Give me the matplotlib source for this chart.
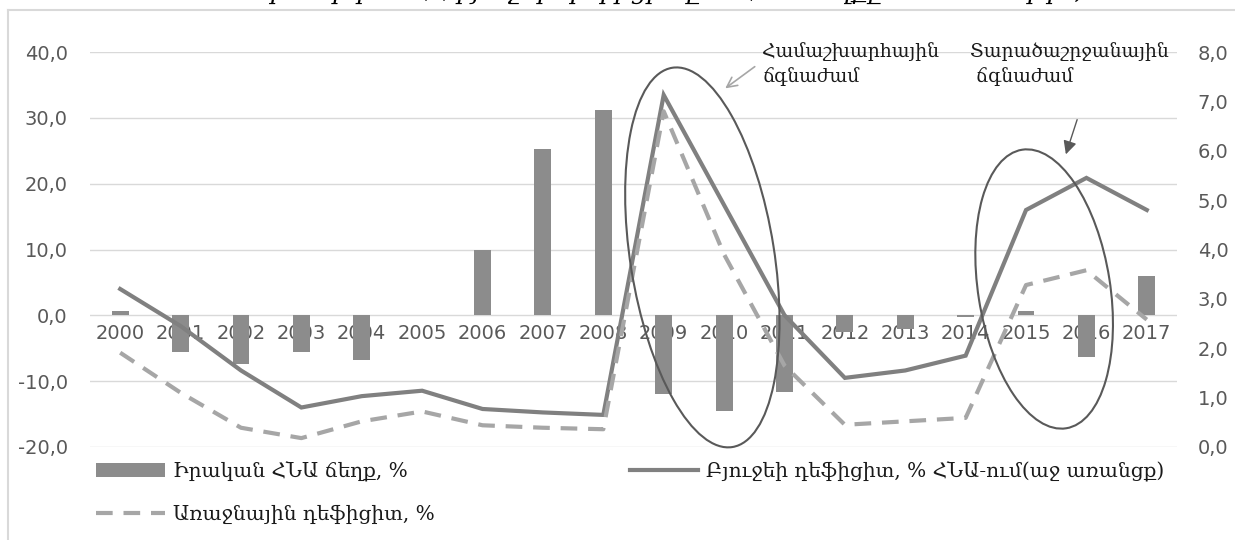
import numpy as np
import matplotlib
matplotlib.use("Agg")
import matplotlib.pyplot as plt
from matplotlib.patches import Ellipse
from matplotlib.lines import Line2D
from matplotlib.transforms import IdentityTransform

# Տվյալներ
years = [str(y) for y in range(2000, 2018)]
gdp_gap = [0.6, -5.5, -7.4, -5.6, -6.8, 0.0, 9.9, 25.3, 31.2,
           -11.9, -14.6, -11.7, -2.6, -2.1, -0.2, 0.6, -6.3, 6.0]
budget_deficit = [3.2, 2.45, 1.55, 0.8, 1.03, 1.14, 0.77, 0.70, 0.65,
                  7.13, 4.9, 2.67, 1.40, 1.55, 1.85, 4.8, 5.45, 4.8]
primary_deficit = [1.91, 1.1, 0.39, 0.18, 0.52, 0.72, 0.44, 0.39, 0.36,
                   6.8, 3.9, 1.65, 0.45, 0.52, 0.59, 3.28, 3.58, 2.58]

left_ticks = [-20, -10, 0, 10, 20, 30, 40]
right_ticks = [0, 1, 2, 3, 4, 5, 6, 7, 8]

lbl_bar = "Իրական ՀՆԱ ճեղք, %"
lbl_budget = "Բյուջեի դեֆիցիտ, % ՀՆԱ-ում(աջ առանցք)"
lbl_primary = "Առաջնային դեֆիցիտ, %"
title = "Գծապատկեր 1. ՀՀ բյուջեի դեֆիցիտը և ՀՆԱ ճեղքը 2000-2017թթ., %"

W, H = 1235, 540
fig = plt.figure(figsize=(W / 100, H / 100), dpi=100)
fig.subplots_adjust(left=90 / W, right=1177 / W, top=1 - 52 / H, bottom=1 - 447 / H)
ax = fig.add_subplot(111)
ax2 = ax.twinx()

x = np.arange(len(years))
bars = ax.bar(x, gdp_gap, width=0.28, color="#8c8c8c", zorder=2)
l1, = ax2.plot(x, budget_deficit, color="#808080", lw=3, solid_joinstyle="miter")
l2, = ax2.plot(x, primary_deficit, color="#a6a6a6", lw=3, dashes=(4, 2.6))

fmt = lambda v: f"{v:.1f}".replace(".", ",")
ax.set_xlim(-0.5, len(years) - 0.5)
ax.set_ylim(-20, 40)
ax.set_yticks(left_ticks)
ax.set_yticklabels([fmt(v) for v in left_ticks])
ax2.set_ylim(0, 8)
ax2.set_yticks(right_ticks)
ax2.set_yticklabels([fmt(v) for v in right_ticks])
ax.set_xticks(x)
ax.set_xticklabels(years)

ax.grid(axis="y", color="#d9d9d9", lw=1)
ax.set_axisbelow(True)
for a in (ax, ax2):
    for s in a.spines.values():
        s.set_visible(False)
ax.spines["bottom"].set_position(("data", 0))
ax.tick_params(axis="x", length=0, pad=6, labelsize=14, labelcolor="#595959")
ax.tick_params(axis="y", length=0, pad=16, labelsize=14, labelcolor="#595959")
ax2.tick_params(axis="y", length=0, pad=15, labelsize=14, labelcolor="#595959")

# ճգնաժամերի էլիպսներ (պիքսելներով)
for cx, cy, w, h in [(9.64, 8.8, 144, 384), (15.3, 4.0, 132, 282)]:
    px, py = ax.transData.transform((cx, cy))
    e = Ellipse((px, py), w, h, angle=9, transform=IdentityTransform(),
                fill=False, ec="#595959", lw=1.5, zorder=5)
    fig.add_artist(e)

serif = ["DejaVu Serif", "DejaVu Sans"]
fig.text(762 / W, 1 - 42 / H, "Համաշխարհային\nճգնաժամ", family=serif,
         fontsize=13.5, va="top", ha="left", color="#1a1a1a", linespacing=1.4)
fig.text(970 / W, 1 - 42 / H, "Տարածաշրջանային\n ճգնաժամ", family=serif,
         fontsize=13.5, va="top", ha="left", color="#1a1a1a", linespacing=1.4)
ax.annotate("", xy=(723, H - 90), xycoords="figure pixels",
            xytext=(757, H - 65), textcoords="figure pixels",
            arrowprops=dict(arrowstyle="->", color="#a6a6a6", lw=1.2, mutation_scale=18))
ax.annotate("", xy=(1065, H - 157), xycoords="figure pixels",
            xytext=(1078, H - 117), textcoords="figure pixels",
            arrowprops=dict(arrowstyle="-|>", color="#595959", lw=1, mutation_scale=20))

# վերնագիր (կտրված)
fig.text(655 / W, 1 + 1 / H, title, family=serif, style="italic", fontsize=18,
         ha="center", va="baseline", color="#000000")

# շրջանակ
fig.add_artist(Line2D([8 / W, 1], [1 - 10 / H, 1 - 10 / H], transform=fig.transFigure,
                      color="#d9d9d9", lw=1.5))
fig.add_artist(Line2D([8 / W, 8 / W], [0, 1 - 10 / H], transform=fig.transFigure,
                      color="#d9d9d9", lw=1.5))

leg = fig.legend([bars, l2, l1], [lbl_bar, lbl_primary, lbl_budget], ncol=2,
                 loc="upper left", bbox_to_anchor=(78 / W, 1 - 443 / H),
                 frameon=False, prop={"family": serif, "size": 14.5},
                 handlelength=3.4, handletextpad=0.4, labelspacing=1.15,
                 columnspacing=9.7, labelcolor="#1a1a1a")

fig.savefig("out.png", dpi=100)
